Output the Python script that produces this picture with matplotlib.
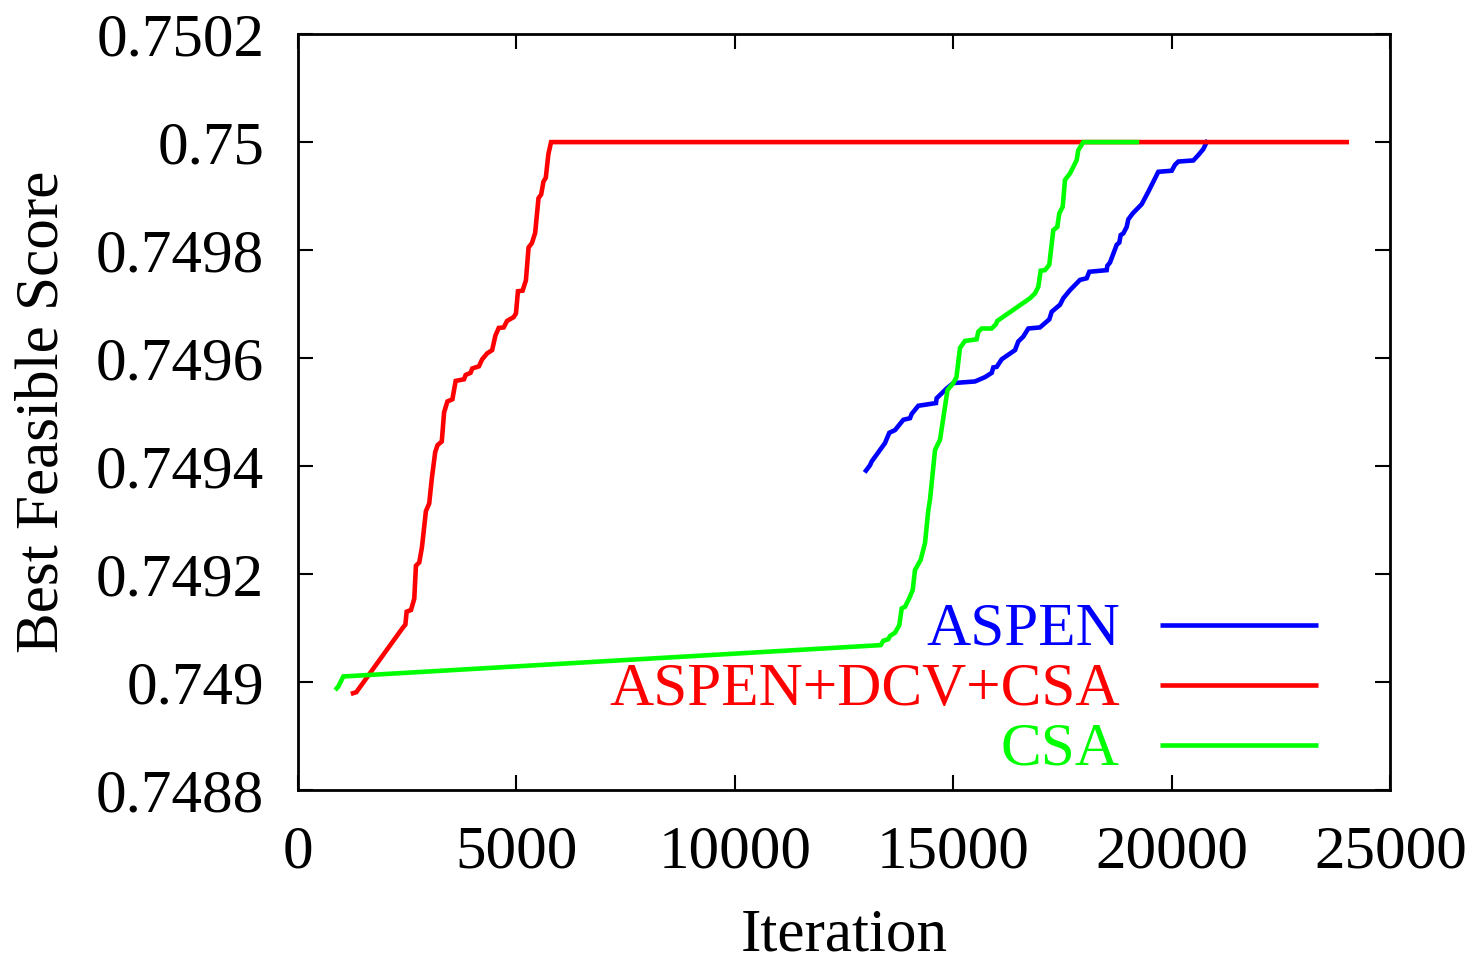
import matplotlib
matplotlib.use("Agg")
import matplotlib.pyplot as plt

# ---------------- data ----------------
aspen_x = [13003, 13095, 13134, 13438, 13536, 13667, 13857, 14010, 14049, 14200,
           14604, 14620, 14849, 15000, 15497, 15725, 15879, 15915, 15993, 16107,
           16412, 16487, 16601, 16716, 16983, 17196, 17251, 17441, 17516, 17669,
           17898, 18051, 18111, 18509, 18523, 18584, 18738, 18797, 18829, 18889,
           18966, 19003, 19104, 19309, 19460, 19689, 19996, 20071, 20147, 20490,
           20605, 20718, 20796]
aspen_y = [0.749392, 0.749402, 0.749409, 0.749443, 0.749462, 0.749467, 0.749486, 0.749489, 0.749497, 0.749512,
           0.749517, 0.749526, 0.749544, 0.749554, 0.749557, 0.749565, 0.749573, 0.749583, 0.749584, 0.749598,
           0.749615, 0.749631, 0.749640, 0.749655, 0.749657, 0.749672, 0.749686, 0.749699, 0.749711, 0.749726,
           0.749745, 0.749748, 0.749760, 0.749763, 0.749771, 0.749777, 0.749810, 0.749814, 0.749828, 0.749831,
           0.749843, 0.749857, 0.749868, 0.749885, 0.749908, 0.749945, 0.749947, 0.749958, 0.749964, 0.749966,
           0.749976, 0.749987, 0.750000]

dcv_x = [1270, 1346, 2406, 2467, 2497, 2596, 2671, 2709, 2785, 2846,
         2937, 3012, 3073, 3149, 3202, 3300, 3353, 3429, 3543, 3580,
         3618, 3808, 3846, 3959, 3997, 4149, 4224, 4338, 4452, 4527,
         4603, 4717, 4792, 4944, 4997, 5042, 5148, 5224, 5285, 5361,
         5436, 5512, 5573, 5626, 5679, 5739, 5800, 24000]
dcv_y = [0.748980, 0.748982, 0.749101, 0.749107, 0.749131, 0.749134, 0.749155, 0.749216, 0.749222, 0.749250,
         0.749317, 0.749331, 0.749378, 0.749426, 0.749439, 0.749446, 0.749500, 0.749520, 0.749524, 0.749541,
         0.749558, 0.749561, 0.749569, 0.749573, 0.749581, 0.749585, 0.749598, 0.749609, 0.749615, 0.749642,
         0.749656, 0.749657, 0.749669, 0.749676, 0.749683, 0.749724, 0.749725, 0.749744, 0.749805, 0.749813,
         0.749832, 0.749896, 0.749903, 0.749927, 0.749934, 0.749978, 0.750000, 0.750000]

csa_x = [897, 938, 1011, 1048, 13339, 13399, 13513, 13552, 13667, 13765,
         13820, 13896, 13994, 14072, 14124, 14255, 14353, 14429, 14467, 14506,
         14582, 14634, 14696, 14810, 14867, 15000, 15073, 15153, 15267, 15535,
         15572, 15649, 15878, 15977, 16006, 16755, 16869, 16944, 16999, 17097,
         17196, 17287, 17379, 17424, 17502, 17555, 17669, 17745, 17823, 17859,
         17974, 19200]
csa_y = [0.748989, 0.748993, 0.749005, 0.749011, 0.749069, 0.749077, 0.749080, 0.749086, 0.749092, 0.749106,
         0.749137, 0.749140, 0.749156, 0.749171, 0.749208, 0.749227, 0.749258, 0.749319, 0.749338, 0.749369,
         0.749430, 0.749439, 0.749449, 0.749510, 0.749541, 0.749554, 0.749565, 0.749619, 0.749632, 0.749635,
         0.749649, 0.749655, 0.749655, 0.749663, 0.749669, 0.749711, 0.749720, 0.749732, 0.749762, 0.749763,
         0.749773, 0.749837, 0.749843, 0.749868, 0.749880, 0.749930, 0.749942, 0.749954, 0.749967, 0.749985,
         0.750000, 0.750000]

labels = ["ASPEN", "ASPEN+DCV+CSA", "CSA"]
colors = ["#0000ff", "#ff0000", "#00ff00"]

xticks = [0, 5000, 10000, 15000, 20000, 25000]
yticks = [0.7488, 0.7490, 0.7492, 0.7494, 0.7496, 0.7498, 0.7500, 0.7502]
ytick_labels = ["0.7488", "0.749", "0.7492", "0.7494", "0.7496", "0.7498", "0.75", "0.7502"]

# ---------------- figure ----------------
plt.rcParams['font.family'] = ['Liberation Serif', 'DejaVu Serif']

fig = plt.figure(figsize=(14.75, 9.64), dpi=100)
ax = fig.add_axes([0.2017, 0.18, 0.9427 - 0.2017, 0.9647 - 0.18])

lw = 3.3
series = [(aspen_x, aspen_y), (dcv_x, dcv_y), (csa_x, csa_y)]
for i, ((xs, ys), lab, col) in enumerate(zip(series, labels, colors)):
    ax.plot(xs, ys, color=col, lw=lw, label=lab, zorder=2 + i,
            solid_joinstyle='miter')

ax.set_xlim(0, 25000)
ax.set_ylim(0.7488, 0.7502)
ax.set_xticks(xticks)
ax.set_xticklabels([str(v) for v in xticks])
ax.set_yticks(yticks)
ax.set_yticklabels(ytick_labels)

fs = 44
ax.tick_params(axis='both', which='major', direction='in', length=11, width=1.5,
               labelsize=fs, top=True, right=True)
ax.tick_params(axis='y', pad=24)
ax.tick_params(axis='x', pad=25)
for s in ax.spines.values():
    s.set_linewidth(2.0)

ax.set_xlabel("Iteration", fontsize=fs, labelpad=20)
ax.set_ylabel("Best Feasible Score", fontsize=fs, labelpad=18)

# gnuplot-style key: right-justified label, then line sample
key_text_x = 0.7525
key_line_x0, key_line_x1 = 0.7891, 0.9337
key_rows = [0.2188, 0.1395, 0.0601]
for lab, col, yr in zip(labels, colors, key_rows):
    ax.text(key_text_x, yr - 0.0264, lab, color=col, fontsize=fs,
            ha='right', va='baseline', transform=ax.transAxes)
    ax.plot([key_line_x0, key_line_x1], [yr, yr], color=col, lw=lw,
            transform=ax.transAxes, clip_on=False, solid_capstyle='butt')

fig.savefig("out.png", dpi=100)
